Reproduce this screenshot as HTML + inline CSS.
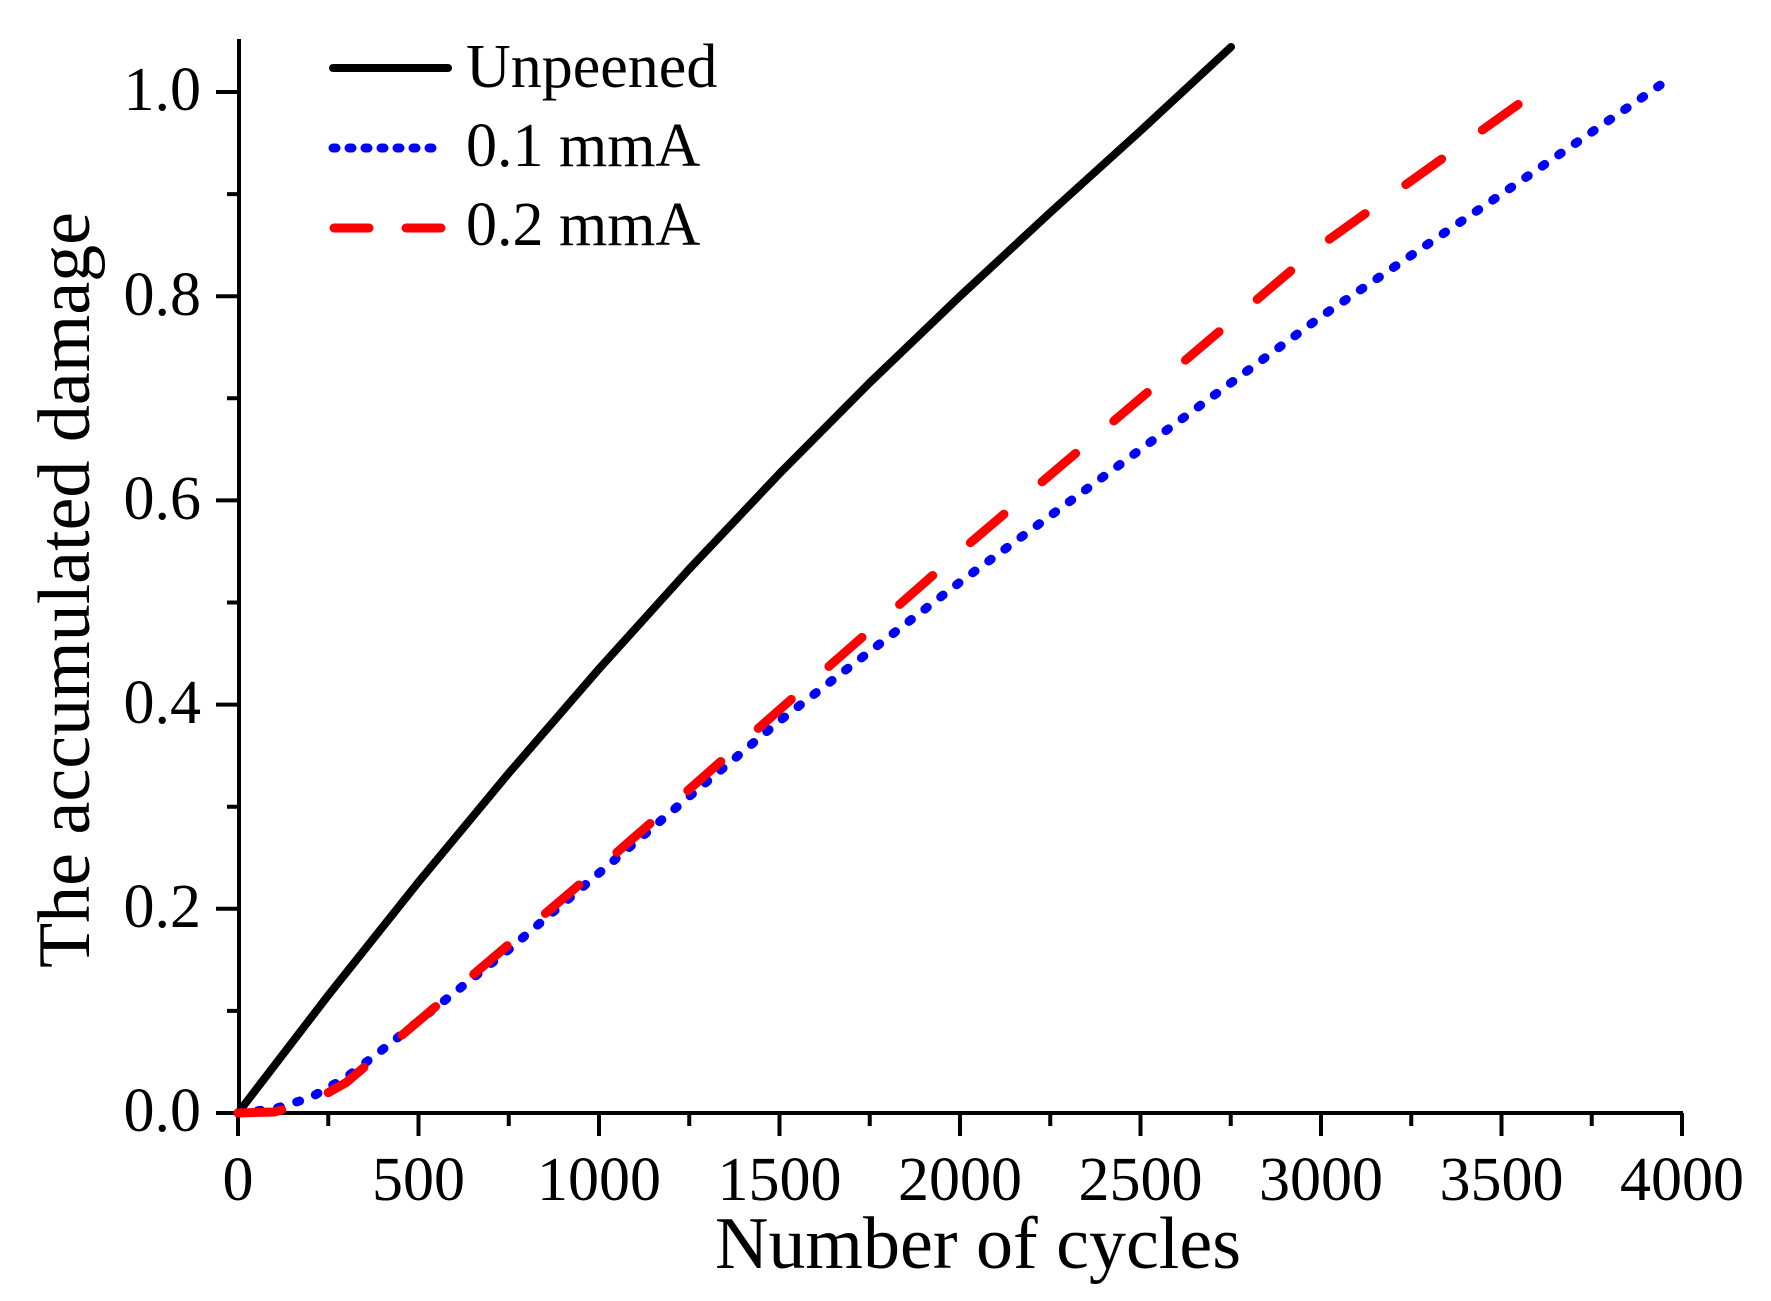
<!DOCTYPE html>
<html><head><meta charset="utf-8"><style>html,body{margin:0;padding:0;background:#fff}svg{display:block}</style></head>
<body>
<svg width="1771" height="1301" viewBox="0 0 1771 1301" xmlns="http://www.w3.org/2000/svg" font-family="Liberation Serif, serif">
<rect width="1771" height="1301" fill="#fff"/>
<g stroke="#000" stroke-width="4" fill="none">
<line x1="239" y1="39" x2="239" y2="1115"/>
<line x1="237" y1="1113" x2="1683" y2="1113"/>
<path d="M238 1113v23M328.25 1113v13M418.5 1113v23M508.75 1113v13M599 1113v23M689.25 1113v13M779.5 1113v23M869.75 1113v13M960 1113v23M1050.25 1113v13M1140.5 1113v23M1230.75 1113v13M1321 1113v23M1411.25 1113v13M1501.5 1113v23M1591.75 1113v13M1682 1113v23"/>
<path d="M239 1113h-23M239 1010.9h-12M239 908.8h-23M239 806.7h-12M239 704.6h-23M239 602.5h-12M239 500.4h-23M239 398.3h-12M239 296.2h-23M239 194.1h-12M239 92h-23"/>
</g>
<g font-size="62" text-anchor="middle" fill="#000">
<text x="238" y="1200">0</text><text x="418.5" y="1200">500</text><text x="599" y="1200">1000</text><text x="779.5" y="1200">1500</text><text x="960" y="1200">2000</text><text x="1140.5" y="1200">2500</text><text x="1321" y="1200">3000</text><text x="1501.5" y="1200">3500</text><text x="1682" y="1200">4000</text>
</g>
<g font-size="62" text-anchor="end" fill="#000">
<text x="201" y="1131">0.0</text><text x="201" y="927">0.2</text><text x="201" y="723">0.4</text><text x="201" y="519">0.6</text><text x="201" y="315">0.8</text><text x="201" y="110">1.0</text>
</g>
<text x="978" y="1268" font-size="74" text-anchor="middle">Number of cycles</text>
<text transform="translate(89,590) rotate(-90)" font-size="74" text-anchor="middle">The accumulated damage</text>
<g fill="none" stroke-linecap="round" stroke-linejoin="round">
<polyline stroke="#000" stroke-width="8" points="238,1113 328.25,995.3 418.5,882 508.75,773.2 599,668.9 689.25,569 779.5,473.6 869.75,382.7 960,296.2 1050.25,212.5 1140.5,130.8 1231,47"/>
<polyline stroke="#0000ff" stroke-width="9" stroke-dasharray="3 17" points="238,1113 274.1,1108.9 310.2,1097.7 346.3,1077.3 382.4,1049.7 418.5,1021.1 508.75,949.6 599,873.1 689.25,796.5 779.5,720.9 960,582.1 1140.5,449.4 1321,316.6 1501.5,194.1 1672,77"/>
<polyline stroke="#ff0000" stroke-width="9" stroke-dasharray="44 50" points="238,1113 274.1,1112 310.2,1102.8 346.3,1082.4 382.4,1051.7 418.5,1021.1 508.75,944.5 599,868 689.25,789.3 779.5,709.7 960,551.5 1140.5,398.3 1321,245.2 1537,91"/>
<line x1="333" y1="68" x2="448" y2="68" stroke="#000" stroke-width="8"/>
<line x1="333" y1="148" x2="436" y2="148" stroke="#0000ff" stroke-width="9" stroke-dasharray="3 13"/>
<line x1="334" y1="228" x2="369" y2="228" stroke="#ff0000" stroke-width="9"/>
<line x1="406" y1="228" x2="441" y2="228" stroke="#ff0000" stroke-width="9"/>
</g>
<g font-size="62" fill="#000">
<text x="466" y="87">Unpeened</text>
<text x="466" y="166">0.1 mmA</text>
<text x="466" y="245">0.2 mmA</text>
</g>
</svg>
</body></html>
